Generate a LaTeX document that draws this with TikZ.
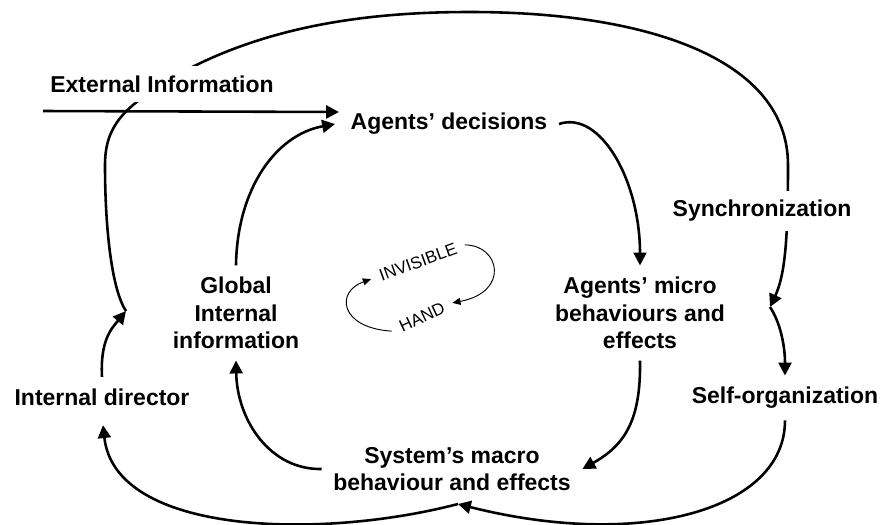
\documentclass[tikz,border=0pt]{standalone}
\usepackage{fontspec}
\setmainfont{Liberation Sans}
\usetikzlibrary{arrows.meta}
\usetikzlibrary{calc}

\begin{document}
\begin{tikzpicture}[x=0.03cm, y=-0.03cm,
    >={Triangle[length=11pt,width=11pt]},
    lbl/.style={font=\bfseries\fontsize{19.6}{23.4}\selectfont, align=center, inner sep=0pt, outer sep=10pt},
    mask/.style={font=\bfseries\fontsize{19.6}{23.4}\selectfont, fill=white, inner sep=8pt},
    hint/.style={font=\fontsize{14.5}{17}\selectfont, inner sep=0pt, outer sep=8pt},
    flow/.style={->, line width=2.2pt},
    thinflow/.style={-{Triangle[length=7pt,width=6pt]}, line width=0.8pt}]
			\useasboundingbox (0,0) rectangle (883,525);
			\coordinate (extin) at (43,111);
			\coordinate (J1) at (126,311);
			\coordinate (J2) at (770,307);
			\coordinate (J3) at (458,504);
			% outer loop goes under the two masked labels
			\draw [flow] (J1) .. controls (112,290) and (105,230) .. (105,165)
				.. controls (105,125) and (125,108) .. (165,82)
				.. controls (260,25) and (370,12) .. (470,12)
				.. controls (650,12) and (788,60) .. (788,165)
				.. controls (788,240) and (785,275) .. (J2);
			\node[mask] (ext) at (162,84) {External Information};
			\node[mask] (sync) at (762,211) {Synchronization};
			\node[lbl] (dec) at (449,124) {Agents’ decisions};
			\node[lbl] (micro) at (640,313) {Agents’ micro\\behaviours and\\effects};
			\node[lbl] (glob) at (236,313) {Global\\Internal\\information};
			\node[lbl] (dir) at (102,397) {Internal director};
			\node[lbl] (self) at (785,398) {Self-organization};
			\node[lbl] (macro) at (452,469) {System’s macro\\behaviour and effects};
			\node[hint, rotate=20] (inv) at (418,262) {INVISIBLE};
			\node[hint, rotate=25] (hand) at (422,317) {HAND};
			\draw [flow] (extin) -- ($(dec.west)+(0,-12)$);
			\draw [flow] (glob.north) .. controls (237,190) and (275,135) .. ($(dec.west)+(-4,0)$);
			\draw [flow] (dec.east) .. controls (600,110) and (640,180) .. (micro.north);
			\draw [flow] (micro.south) .. controls (641,420) and (625,445) .. (macro.east);
			\draw [flow] (macro.west) .. controls (270,470) and (237,420) .. (glob.south);
			\draw [flow] (dir.north) .. controls (100,340) and (112,328) .. (J1);
			\draw [flow] (J2) .. controls (780,322) and (785,345) .. (self.north);
			\draw [flow] (self.south) .. controls (785,510) and (640,550) .. (J3);
			\draw [flow] (J3) .. controls (320,540) and (115,535) .. ($(dir.south)+(1,8)$);
			\draw [thinflow] (inv.east) .. controls (500,245) and (510,292) .. (hand.east);
			\draw [thinflow] (hand.west) .. controls (340,328) and (335,292) .. (inv.west);
\end{tikzpicture}
\end{document}
